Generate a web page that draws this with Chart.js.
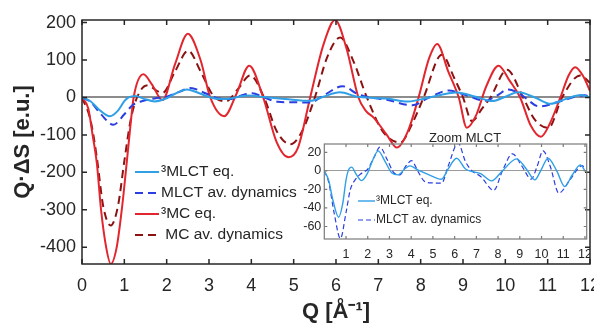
<!DOCTYPE html>
<html>
<head>
<meta charset="utf-8">
<script src="https://cdn.jsdelivr.net/npm/chart.js@4.4.1/dist/chart.umd.min.js"></script>
<style>
  html, body { margin: 0; padding: 0; background: #fff; overflow: hidden; }
  #wrap { position: relative; width: 594px; height: 325px; }
  #main { position: absolute; left: 0; top: 0; }
  #inset { position: absolute; left: 290px; top: 128px; }
</style>
</head>
<body>
<div id="wrap">
  <canvas id="main" width="594" height="325"></canvas>
  <canvas id="inset" width="300" height="132"></canvas>
</div>
<script>
// Q·ΔS difference signals.
// Each series: Q positions [1/Å] and the value at that Q [e.u.]

const mlctEqQ   = [0, 0.2, 0.4, 0.66, 0.85, 1.0, 1.1, 1.26, 1.45, 1.72, 2.0, 2.2, 2.48, 2.8, 3.1, 3.4, 3.7, 3.94, 4.3, 4.8, 5.4, 5.7, 6.09, 6.5, 6.93, 7.2, 7.7, 8.2, 8.85, 9.3, 9.69, 10.0, 10.3, 10.7, 11.07, 11.4, 11.79, 12];
const mlctEqVal = [0, -10, -32, -50, -35, -10, 0, 4, -3, -10.5, -2, 10, 21.6, 10, -2, -4.3, 2, 5.4, 1, -4, -9, 2, 13.7, 2, -1.4, -3, -10.8, 0, 13, 2, -9.7, 2, 13.7, 0, -17, -5, 6.5, 0];

const mlctDynQ   = [0, 0.2, 0.45, 0.74, 1.0, 1.2, 1.41, 1.72, 2.0, 2.3, 2.56, 2.9, 3.2, 3.48, 3.75, 4.02, 4.3, 4.63, 5.0, 5.4, 5.7, 6.16, 6.5, 6.8, 7.2, 7.8, 8.2, 8.66, 9.1, 9.53, 9.8, 10.07, 10.4, 10.8, 11.3, 11.88, 12];
const mlctDynVal = [0, -12, -45, -73, -45, -20, -10, -2.5, 2, 15, 25.6, 12, -2, -4.3, 5, 11, 0, -11.6, -13, -13.3, 5, 30, 10, 0, -6, -21, 0, 18.4, 5, -9, 5, 21.6, 5, -24, -10, 5.7, 2];

const mcEqQ   = [0, 0.15, 0.25, 0.35, 0.45, 0.57, 0.68, 0.82, 0.95, 1.06, 1.14, 1.22, 1.45, 1.65, 1.9, 2.2, 2.5, 2.8, 3.03, 3.36, 3.65, 3.95, 4.28, 4.6, 4.88, 5.1, 5.39, 5.7, 5.98, 6.25, 6.53, 6.7, 6.9, 7.2, 7.44, 7.7, 7.95, 8.2, 8.39, 8.65, 8.9, 9.09, 9.3, 9.55, 9.84, 10.1, 10.35, 10.6, 10.84, 11.05, 11.3, 11.5, 11.65, 11.85, 12];
const mcEqVal = [0, -30, -100, -175, -300, -400, -445, -400, -290, -170, -80, 0, 62, 35, -7, 90, 170, 100, 0, -50, 10, 85, 0, -120, -160, -135, 0, 140, 207, 130, 0, -35, -55, -100, -134, -90, 0, 105, 143, 70, 0, -81, -50, 30, 85, 45, 0, -75, -105, -70, 0, 60, 81, 55, 17];

const mcDynQ   = [0, 0.2, 0.35, 0.5, 0.68, 0.85, 1.0, 1.15, 1.3, 1.53, 1.9, 2.2, 2.51, 2.8, 3.1, 3.4, 3.7, 3.97, 4.3, 4.6, 4.92, 5.2, 5.5, 5.8, 6.1, 6.4, 6.73, 7.1, 7.52, 7.8, 8.07, 8.5, 8.8, 9.0, 9.21, 9.45, 9.65, 10.04, 10.42, 10.7, 11.02, 11.34, 11.77, 12];
const mcDynVal = [0, -60, -160, -290, -342, -290, -170, -60, 0, 32, 12, 70, 125, 70, 5, -10, 25, 59, 0, -90, -125, -90, 0, 110, 160, 100, 0, -90, -120, -70, 0, 114, 50, 0, -63, -30, 0, 74, 0, -60, -81, 0, 59, 39];

// Tick values
const mainXTicks  = [0, 1, 2, 3, 4, 5, 6, 7, 8, 9, 10, 11, 12];
const mainYTicks  = [-400, -300, -200, -100, 0, 100, 200];
const insetXTicks = [1, 2, 3, 4, 5, 6, 7, 8, 9, 10, 11, 12];
const insetYTicks = [-60, -40, -20, 0, 20];

const labelMlctEq  = '\u00B3MLCT eq.';
const labelMlctDyn = 'MLCT av. dynamics';
const labelMcEq    = '\u00B3MC eq.';
const labelMcDyn   = ' MC av. dynamics';

const C_MLCT_EQ  = '#2f9fe6';
const C_MLCT_DYN = '#2b3fe0';
const C_MC_EQ    = '#e2262e';
const C_MC_DYN   = '#8c1212';
const AXIS       = '#262626';
const FONT       = "'Liberation Sans', Arial, sans-serif";

const toPts = (qs, vs) => qs.map((q, i) => ({ x: q, y: vs[i] }));

// ── Plugins: matlab-style box with inward ticks, hand-placed legend ─────────

const framePlugin = {
  id: 'frame',
  afterDatasetsDraw(chart, args, opts) {
    const { ctx, chartArea: a, scales: { x, y } } = chart;
    ctx.save();
    ctx.strokeStyle = opts.color;
    ctx.lineWidth = opts.width;
    ctx.beginPath();
    x.ticks.forEach(t => {
      const px = x.getPixelForValue(t.value);
      ctx.moveTo(px, a.bottom); ctx.lineTo(px, a.bottom - opts.len);
      ctx.moveTo(px, a.top);    ctx.lineTo(px, a.top + opts.len);
    });
    y.ticks.forEach(t => {
      const py = y.getPixelForValue(t.value);
      ctx.moveTo(a.left, py);  ctx.lineTo(a.left + opts.len, py);
      ctx.moveTo(a.right, py); ctx.lineTo(a.right - opts.len, py);
    });
    ctx.stroke();
    ctx.strokeRect(a.left, a.top, a.right - a.left, a.bottom - a.top);
    ctx.restore();
  }
};

const boxLegendPlugin = {
  id: 'boxLegend',
  afterDraw(chart, args, opts) {
    const { ctx } = chart;
    ctx.save();
    ctx.font = opts.font;
    ctx.fillStyle = AXIS;
    ctx.textBaseline = 'middle';
    chart.data.datasets.forEach((ds, i) => {
      const yy = opts.y0 + i * opts.dy;
      ctx.strokeStyle = ds.borderColor;
      ctx.lineWidth = ds.borderWidth;
      ctx.setLineDash(ds.borderDash || []);
      ctx.beginPath();
      ctx.moveTo(opts.x0, yy);
      ctx.lineTo(opts.x1, yy);
      ctx.stroke();
      ctx.setLineDash([]);
      ctx.fillText(ds.label, opts.textX, yy);
    });
    if (opts.title) {
      ctx.font = opts.titleFont;
      ctx.textAlign = 'center';
      ctx.textBaseline = 'middle';
      ctx.fillText(opts.title, opts.titleX, opts.titleY);
    }
    ctx.restore();
  }
};

function zeroGrid(color, width) {
  return {
    display: true,
    drawTicks: false,
    lineWidth: width,
    color: c => (c.tick && c.tick.value === 0 ? color : 'rgba(0,0,0,0)')
  };
}

function lineDs(label, q, v, color, width, dash) {
  return {
    label,
    data: toPts(q, v),
    borderColor: color,
    backgroundColor: color,
    borderWidth: width,
    borderDash: dash,
    pointRadius: 0,
    fill: false,
    cubicInterpolationMode: 'monotone'
  };
}

// keep the edge tick labels from shrinking the plot area
function fixX(height) {
  return s => { s.height = height; s.paddingLeft = 0; s.paddingRight = 0; };
}

// ── Main chart ──────────────────────────────────────────────────────────────

new Chart(document.getElementById('main').getContext('2d'), {
  type: 'line',
  data: {
    datasets: [
      lineDs(labelMlctEq,  mlctEqQ,  mlctEqVal,  C_MLCT_EQ,  2,   []),
      lineDs(labelMlctDyn, mlctDynQ, mlctDynVal, C_MLCT_DYN, 2,   [8, 5]),
      lineDs(labelMcEq,    mcEqQ,    mcEqVal,    C_MC_EQ,    2,   []),
      lineDs(labelMcDyn,   mcDynQ,   mcDynVal,   C_MC_DYN,   2,   [8, 5])
    ]
  },
  options: {
    responsive: false,
    animation: false,
    layout: { padding: { top: 20, right: 4, left: 0, bottom: 0 } },
    plugins: {
      legend: { display: false },
      tooltip: { enabled: false },
      frame: { color: AXIS, width: 1.5, len: 5 },
      boxLegend: {
        font: `15.5px ${FONT}`,
        x0: 135, x1: 159, textX: 161, y0: 172, dy: 21
      }
    },
    scales: {
      x: {
        type: 'linear',
        min: 0,
        max: 12,
        afterBuildTicks: s => { s.ticks = mainXTicks.map(v => ({ value: v })); },
        afterFit: fixX(61),
        ticks: { color: AXIS, font: { family: FONT, size: 18 }, padding: 3, maxRotation: 0 },
        grid: { display: false },
        border: { display: false },
        title: {
          display: true,
          text: 'Q [Å\u207B\u00B9]',
          color: AXIS,
          font: { family: FONT, size: 22, weight: 'bold' },
          padding: { top: 0, bottom: 0 }
        }
      },
      y: {
        min: -445,
        max: 207,
        afterBuildTicks: s => { s.ticks = mainYTicks.map(v => ({ value: v })); },
        afterFit: s => { s.width = 82; },
        ticks: { color: AXIS, font: { family: FONT, size: 18 }, padding: 6 },
        grid: zeroGrid('#8c8c8c', 2),
        border: { display: false },
        title: {
          display: true,
          text: 'Q\u00B7\u0394S [e.u.]',
          color: AXIS,
          font: { family: FONT, size: 22, weight: 'bold' },
          padding: { top: 10, bottom: 0 }
        }
      }
    }
  },
  plugins: [framePlugin, boxLegendPlugin]
});

// ── Inset: zoom on the MLCT curves ─────────────────────────────────────────

new Chart(document.getElementById('inset').getContext('2d'), {
  type: 'line',
  data: {
    datasets: [
      lineDs(labelMlctEq,  mlctEqQ,  mlctEqVal,  C_MLCT_EQ,  1.4, []),
      lineDs(labelMlctDyn, mlctDynQ, mlctDynVal, C_MLCT_DYN, 1.2, [5, 3])
    ]
  },
  options: {
    responsive: false,
    animation: false,
    layout: { padding: { top: 16, right: 3.3, left: 0, bottom: 0 } },
    plugins: {
      legend: { display: false },
      tooltip: { enabled: false },
      frame: { color: '#7a7a7a', width: 1.2, len: 3 },
      boxLegend: {
        font: `12px ${FONT}`,
        x0: 68, x1: 85, textX: 86, y0: 73, dy: 19,
        title: 'Zoom MLCT', titleFont: `13px ${FONT}`, titleX: 175, titleY: 10
      }
    },
    scales: {
      x: {
        type: 'linear',
        min: 0,
        max: 12.08,
        afterBuildTicks: s => { s.ticks = insetXTicks.map(v => ({ value: v })); },
        afterFit: fixX(21),
        ticks: { color: AXIS, font: { family: FONT, size: 12.5 }, padding: 0, maxRotation: 0 },
        grid: { display: false },
        border: { display: false }
      },
      y: {
        min: -73.5,
        max: 29,
        afterBuildTicks: s => { s.ticks = insetYTicks.map(v => ({ value: v })); },
        afterFit: s => { s.width = 34.3; },
        ticks: { color: AXIS, font: { family: FONT, size: 12.5 }, padding: 3 },
        grid: zeroGrid('#9a9a9a', 1),
        border: { display: false }
      }
    }
  },
  plugins: [framePlugin, boxLegendPlugin]
});
</script>
</body>
</html>
